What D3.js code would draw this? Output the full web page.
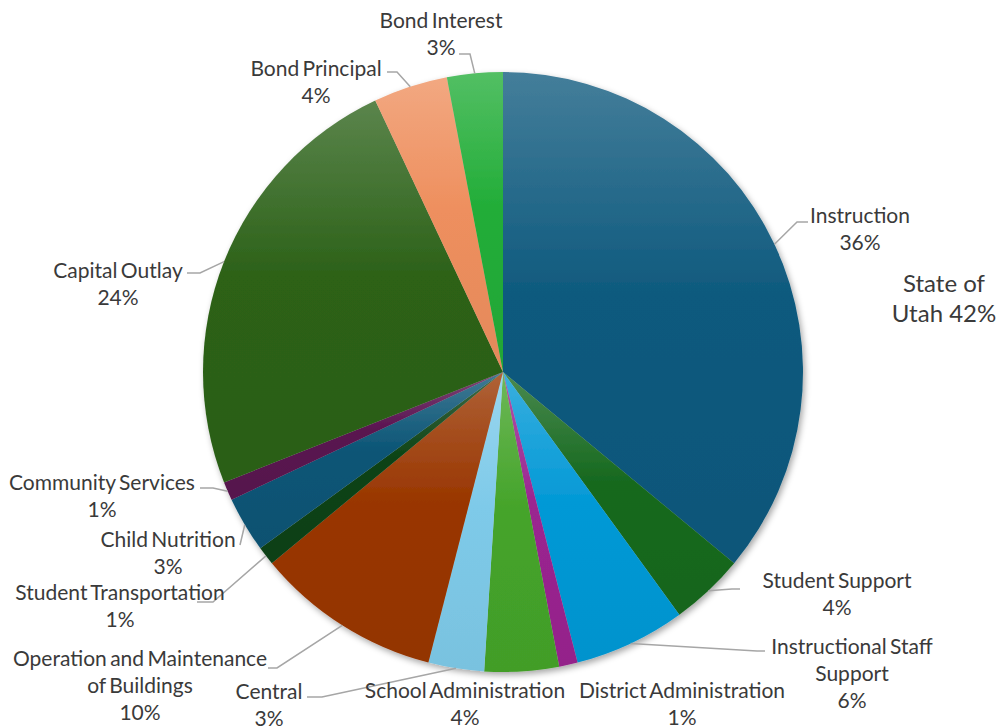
<!DOCTYPE html>
<html>
<head>
<meta charset="utf-8">
<script src="https://cdn.jsdelivr.net/npm/d3@7"></script>
<style>
  html, body { margin: 0; padding: 0; background: #ffffff; }
  svg { display: block; }
  text { font-family: Lato, "Open Sans", sans-serif; fill: #3a3a3a; }
</style>
</head>
<body>
<svg id="chart" width="998" height="728"></svg>
<script>
// Expenditure categories, clockwise from 12 o'clock
const categories = [
  "Instruction", "Student Support", "Instructional Staff Support",
  "District Administration", "School Administration", "Central",
  "Operation and Maintenance of Buildings", "Student Transportation",
  "Child Nutrition", "Community Services", "Capital Outlay",
  "Bond Principal", "Bond Interest"
];
// Share of total spending (percent)
const shares = [36, 4, 6, 1, 4, 3, 10, 1, 3, 1, 24, 4, 3];
// Label text lines for each slice (the percentage is appended below)
const labelLines = [
  ["Instruction"], ["Student Support"], ["Instructional Staff", "Support"],
  ["District Administration"], ["School Administration"], ["Central"],
  ["Operation and Maintenance", "of Buildings"], ["Student Transportation"],
  ["Child Nutrition"], ["Community Services"], ["Capital Outlay"],
  ["Bond Principal"], ["Bond Interest"]
];
const sliceColors = [
  "#0f5a7e", "#17691f", "#0399d6", "#9a2590", "#45a42a", "#7ecae9",
  "#993600", "#0d4315", "#0b5576", "#5a1350", "#2d6219", "#ee8f5e", "#22ad38"
];
// Side note
const noteLines = ["State of", "Utah 42%"];

// Layout of the data labels: text centre (x, y of first line) and leader
// line attachment (ax, ay) with elbow x (ex); leader false = no line.
const labelLayout = [
  { x: 860, y: 214, leader: true, ex: 797, ax: 808, ay: 222 },
  { x: 837, y: 579, leader: true, ex: 732, ax: 740, ay: 589 },
  { x: 852, y: 645, leader: true, ex: 757, ax: 765, ay: 651 },
  { x: 682, y: 689, leader: false },
  { x: 465, y: 689, leader: false },
  { x: 269, y: 690, leader: true, ex: 322, ax: 307, ay: 697 },
  { x: 140, y: 657, leader: true, ex: 277, ax: 268, ay: 668 },
  { x: 120, y: 591, leader: true, ex: 213, ax: 197, ay: 602 },
  { x: 168, y: 538, leader: true, ex: 240, ax: 240, ay: 545 },
  { x: 102, y: 481, leader: true, ex: 213, ax: 200, ay: 488 },
  { x: 118, y: 269, leader: true, ex: 200, ax: 187, ay: 273 },
  { x: 316, y: 67,  leader: true, ex: 397, ax: 387, ay: 72 },
  { x: 441, y: 19,  leader: true, ex: 470, ax: 459, ay: 54 }
];

const svg = d3.select("#chart");
const cx = 503, cy = 372, radius = 300;
const lineH = 27;

const defs = svg.append("defs");
const shadow = defs.append("filter").attr("id", "pieShadow")
  .attr("x", "-10%").attr("y", "-10%").attr("width", "120%").attr("height", "120%");
shadow.append("feDropShadow")
  .attr("dx", 2).attr("dy", 3).attr("stdDeviation", 3)
  .attr("flood-color", "#000").attr("flood-opacity", 0.35);

// Vertical gradient per slice: lighter on top, base colour below
sliceColors.forEach((c, i) => {
  const g = defs.append("linearGradient").attr("id", "grad" + i)
    .attr("x1", 0).attr("y1", 0).attr("x2", 0).attr("y2", 1);
  g.append("stop").attr("offset", "0%").attr("stop-color", d3.interpolateRgb(c, "#ffffff")(0.22));
  g.append("stop").attr("offset", "45%").attr("stop-color", c);
  g.append("stop").attr("offset", "100%").attr("stop-color", d3.color(c).darker(0.12));
});

const data = categories.map((name, i) => ({ name, value: shares[i], idx: i }));
const pie = d3.pie().sort(null).value(d => d.value).startAngle(0).endAngle(2 * Math.PI);
const arcs = pie(data);
const arc = d3.arc().innerRadius(0).outerRadius(radius);
const edge = d3.arc().innerRadius(radius).outerRadius(radius);

const g = svg.append("g").attr("transform", `translate(${cx},${cy})`);
g.append("g").attr("filter", "url(#pieShadow)")
  .selectAll("path").data(arcs).join("path")
  .attr("d", arc)
  .attr("fill", d => `url(#grad${d.data.idx})`);

// Leader lines from slice edge to label
const leaders = svg.append("g").attr("fill", "none")
  .attr("stroke", "#a6a6a6").attr("stroke-width", 1.5);
arcs.forEach(d => {
  const L = labelLayout[d.data.idx];
  if (!L.leader) return;
  const p = edge.centroid(d);
  const pts = [[cx + p[0], cy + p[1]], [L.ex, L.ay], [L.ax, L.ay]];
  leaders.append("path").attr("d", d3.line()(pts));
});

// Data labels
const labels = svg.append("g").attr("font-size", 21).attr("text-anchor", "middle");
arcs.forEach(d => {
  const i = d.data.idx;
  const L = labelLayout[i];
  const lines = labelLines[i].concat([d.data.value + "%"]);
  const t = labels.append("text").attr("x", L.x).attr("y", L.y)
    .attr("dominant-baseline", "central").attr("word-spacing", -2);
  lines.forEach((s, k) => {
    t.append("tspan").attr("x", L.x).attr("dy", k === 0 ? 0 : lineH).text(s);
  });
});

// Side note
const note = svg.append("text").attr("x", 944).attr("y", 282)
  .attr("font-size", 24).attr("text-anchor", "middle").attr("dominant-baseline", "central");
noteLines.forEach((s, k) => {
  note.append("tspan").attr("x", 944).attr("dy", k === 0 ? 0 : 30).text(s);
});
</script>
</body>
</html>
